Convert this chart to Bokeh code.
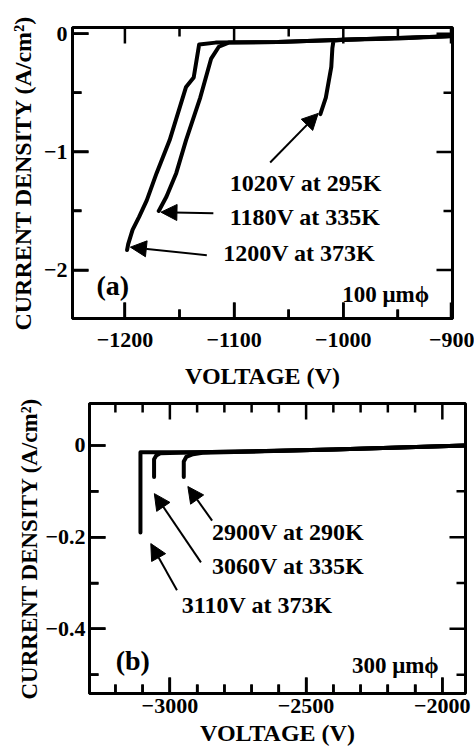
from bokeh.plotting import figure
from bokeh.models import FixedTicker, Range1d, Arrow, NormalHead, ColumnDataSource
from bokeh.core.properties import value
from bokeh.embed import file_html
from bokeh.resources import INLINE

FONT = "Liberation Serif"

# ---------------- Panel (a) data: 100 um diameter ----------------
v_295 = [-900, -950, -1000, -1009, -1010, -1011, -1016, -1021]
j_295 = [-0.02, -0.04, -0.05, -0.06, -0.12, -0.28, -0.54, -0.68]

v_335 = [-900, -1000, -1060, -1105, -1114, -1121, -1131, -1144, -1153, -1162, -1169]
j_335 = [-0.02, -0.05, -0.07, -0.075, -0.11, -0.21, -0.54, -0.90, -1.18, -1.38, -1.50]

v_373 = [-900, -1000, -1060, -1117, -1132, -1137, -1144, -1159, -1171, -1180, -1187, -1193, -1197, -1198]
j_373 = [-0.02, -0.05, -0.07, -0.075, -0.09, -0.37, -0.45, -0.90, -1.18, -1.41, -1.55, -1.66, -1.78, -1.83]

a_labels = ["1020V at 295K", "1180V at 335K", "1200V at 373K"]
a_label_x = [-1104, -1104, -1110]
a_label_y = [-1.265, -1.553, -1.857]
a_arrow_x0 = [-1067, -1119, -1125]
a_arrow_y0 = [-1.089, -1.519, -1.874]
a_arrow_x1 = [-1023, -1167, -1195]
a_arrow_y1 = [-0.674, -1.51, -1.806]

a_xticks = [-1200, -1100, -1000, -900]
a_xminor = [-1150, -1050, -950]
a_yticks = [-2, -1, 0]
a_yminor = [-1.5, -0.5]

# ---------------- Panel (b) data: 300 um diameter ----------------
v_290 = [-1915, -2400, -2880, -2915, -2940, -2949, -2949]
j_290 = [0.0, -0.009, -0.016, -0.019, -0.025, -0.035, -0.069]

v_335b = [-1915, -2400, -2900, -3035, -3050, -3058, -3058]
j_335b = [0.0, -0.009, -0.015, -0.017, -0.022, -0.03, -0.069]

v_373b = [-1915, -2400, -2900, -3108, -3108]
j_373b = [0.0, -0.009, -0.015, -0.015, -0.19]

b_labels = ["2900V at 290K", "3060V at 335K", "3110V at 373K"]
b_label_x = [-2845, -2845, -2956]
b_label_y = [-0.189, -0.262, -0.347]
b_arrow_x0 = [-2845, -2886, -2974]
b_arrow_y0 = [-0.164, -0.255, -0.316]
b_arrow_x1 = [-2934, -3057, -3070]
b_arrow_y1 = [-0.0895, -0.105, -0.214]

b_xticks = [-3000, -2500, -2000]
b_xminor = [-3200, -3100, -2900, -2800, -2700, -2600, -2400, -2300, -2200, -2100]
b_yticks = [-0.4, -0.2, 0]
b_yminor = [-0.5, -0.3, -0.1]

MAJOR_LEN = 16   # px
MINOR_LEN = 9    # px
TICK_INSET = 1.5  # px


def style_axis(ax, ticker, tick_standoff, label, label_standoff, label_size):
    ax.ticker = ticker
    ax.axis_line_width = 3
    ax.axis_line_color = "black"
    ax.major_tick_in = MAJOR_LEN
    ax.major_tick_out = 0
    ax.minor_tick_in = MINOR_LEN
    ax.minor_tick_out = 0
    ax.major_tick_line_width = 2.5
    ax.minor_tick_line_width = 2.5
    ax.major_tick_line_color = "black"
    ax.minor_tick_line_color = "black"
    ax.major_label_text_font = FONT
    ax.major_label_text_font_style = "bold"
    ax.major_label_text_color = "black"
    ax.major_label_text_font_size = "22px"
    ax.major_label_standoff = tick_standoff
    ax.axis_label = label
    ax.axis_label_text_font = FONT
    ax.axis_label_text_font_style = "bold"
    ax.axis_label_text_font_size = label_size
    ax.axis_label_text_color = "black"
    ax.axis_label_standoff = label_standoff


def inner_ticks(p, xr, yr, fw, fh, xt, xm, yt, ym):
    # tick marks pointing into the frame on all four sides, one short line each
    dxp = (xr[1] - xr[0]) / fw
    dyp = (yr[1] - yr[0]) / fh
    i0 = TICK_INSET
    for ticks, ln in ((xt, MAJOR_LEN), (xm, MINOR_LEN)):
        for t in ticks:
            tx = min(max(t, xr[0] + i0 * dxp), xr[1] - i0 * dxp)
            p.line([tx, tx], [yr[0] + i0 * dyp, yr[0] + ln * dyp],
                   line_color="black", line_width=2.5)
            p.line([tx, tx], [yr[1] - i0 * dyp, yr[1] - ln * dyp],
                   line_color="black", line_width=2.5)
    for ticks, ln in ((yt, MAJOR_LEN), (ym, MINOR_LEN)):
        for t in ticks:
            ty = min(max(t, yr[0] + i0 * dyp), yr[1] - i0 * dyp)
            p.line([xr[0] + i0 * dxp, xr[0] + ln * dxp], [ty, ty],
                   line_color="black", line_width=2.5)
            p.line([xr[1] - i0 * dxp, xr[1] - ln * dxp], [ty, ty],
                   line_color="black", line_width=2.5)


def make_panel(height, borders, xr, yr, xt, xm, yt, ym, curves, labels, lx, ly,
               ax0, ay0, ax1, ay1, tag, tag_pos, dia, dia_pos,
               ylab_standoff, ytick_standoff, xtick_standoff, xlab_standoff, ylab_size):
    p = figure(width=474, height=height, output_backend="svg", toolbar_location=None,
               x_range=Range1d(*xr), y_range=Range1d(*yr),
               min_border_left=borders[0], min_border_right=borders[1],
               min_border_top=borders[2], min_border_bottom=borders[3])
    p.xgrid.visible = False
    p.ygrid.visible = False
    p.outline_line_width = 3
    p.outline_line_color = "black"
    p.background_fill_color = None
    p.border_fill_color = None

    style_axis(p.xaxis[0], FixedTicker(ticks=xt, minor_ticks=xm), xtick_standoff,
               "VOLTAGE (V)", xlab_standoff, "24px")
    style_axis(p.yaxis[0], FixedTicker(ticks=yt, minor_ticks=ym), ytick_standoff,
               "CURRENT DENSITY (A/cm²)", ylab_standoff, ylab_size)

    for vx, jy in curves:
        p.line(vx, jy, line_width=4, line_color="black", line_join="round", line_cap="round")

    p.text(x=lx, y=ly, text=labels, text_font=value(FONT), text_font_style="bold",
           text_font_size="24px", text_align="left", text_baseline="middle", text_color="black")

    src = ColumnDataSource(dict(x0=ax0, y0=ay0, x1=ax1, y1=ay1))
    p.add_layout(Arrow(source=src, x_start="x0", y_start="y0", x_end="x1", y_end="y1",
                       line_width=2, line_color="black",
                       end=NormalHead(size=16, fill_color="black", line_color="black")))

    p.text(x=[tag_pos[0]], y=[tag_pos[1]], text=[tag], text_font=value(FONT),
           text_font_style="bold", text_font_size="28px", text_align="left",
           text_baseline="middle", text_color="black")
    p.text(x=[dia_pos[0]], y=[dia_pos[1]], text=[dia], text_font=value(FONT),
           text_font_style="bold", text_font_size="23px", text_align="left",
           text_baseline="middle", text_color="black")

    fw = 474 - borders[0] - borders[1]
    fh = height - borders[2] - borders[3]
    inner_ticks(p, xr, yr, fw, fh, xt, xm, yt, ym)
    return p


p1 = make_panel(392, (72, 22, 27, 74), (-1248, -900), (-2.41, 0.053),
                a_xticks, a_xminor, a_yticks, a_yminor,
                [(v_295, j_295), (v_335, j_335), (v_373, j_373)],
                a_labels, a_label_x, a_label_y,
                a_arrow_x0, a_arrow_y0, a_arrow_x1, a_arrow_y1,
                "(a)", (-1226, -2.13), "100 μmϕ", (-1001, -2.21),
                5, 5, 14, 13, "24px")

p2 = make_panel(357, (89, 9, 11, 56), (-3295, -1915), (-0.541, 0.0916),
                b_xticks, b_xminor, b_yticks, b_yminor,
                [(v_290, j_290), (v_335b, j_335b), (v_373b, j_373b)],
                b_labels, b_label_x, b_label_y,
                b_arrow_x0, b_arrow_y0, b_arrow_x1, b_arrow_y1,
                "(b)", (-3199, -0.469), "300 μmϕ", (-2332, -0.48),
                0, 4, 5, 4, "23px")

open("out.html", "w").write(file_html([p1, p2], INLINE))
